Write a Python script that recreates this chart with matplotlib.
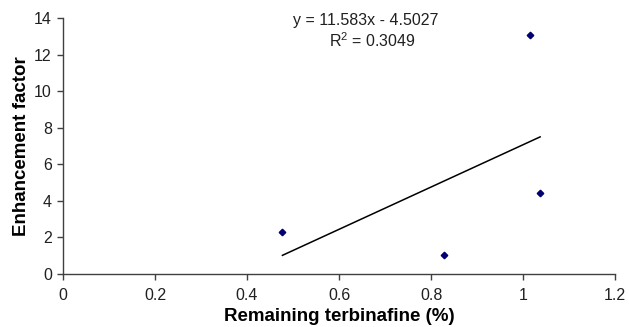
import numpy as np
import matplotlib.pyplot as plt

plt.rcParams['font.family'] = ['Liberation Sans', 'DejaVu Sans']

# data
remaining = [0.477, 0.827, 1.014, 1.037]
enhancement = [2.32, 1.02, 13.1, 4.45]
slope = 11.583
intercept = -4.5027
r2 = 0.3049

W, H = 629, 327
fig = plt.figure(figsize=(W / 100, H / 100), dpi=100)
ax = fig.add_axes([0.1, 0.162, 0.878, 0.782])

# scatter
ax.plot(remaining, enhancement, linestyle='none', marker='D', markersize=3.3,
        color='#000070')

# linear trendline over the data range
xt = np.array([min(remaining), max(remaining)])
ax.plot(xt, slope * xt + intercept, color='black', linewidth=1.1)

# trendline equation (positions in pixels from top-left)
fig.text(366 / W, 1 - 25 / H, f"y = {slope}x - {-intercept}",
         ha='center', va='baseline', fontsize=11.5, color='#202020')
fig.text(372 / W, 1 - 47 / H, f"R$\\mathregular{{^2}}$ = {r2}",
         ha='center', va='baseline', fontsize=11.5, color='#202020')

ax.set_xlim(0, 1.2)
ax.set_ylim(0, 14)
ax.set_xticks(np.arange(0, 1.21, 0.2))
ax.set_xticklabels(['0', '0.2', '0.4', '0.6', '0.8', '1', '1.2'])
ax.set_yticks(np.arange(0, 15, 2))

for side in ['top', 'right']:
    ax.spines[side].set_visible(False)
for side in ['left', 'bottom']:
    ax.spines[side].set_color('#404040')
    ax.spines[side].set_linewidth(1.0)
ax.tick_params(direction='out', length=4, width=1.0, color='#404040',
               labelsize=11.5, labelcolor='#202020')
ax.tick_params(axis='x', pad=6)
ax.tick_params(axis='y', pad=4)

ax.set_xlabel("Remaining terbinafine (%)", fontsize=13.5, fontweight='bold',
              labelpad=4)
ax.set_ylabel("Enhancement factor", fontsize=13.5, fontweight='bold',
              labelpad=3)

fig.savefig("out.png", dpi=100)
